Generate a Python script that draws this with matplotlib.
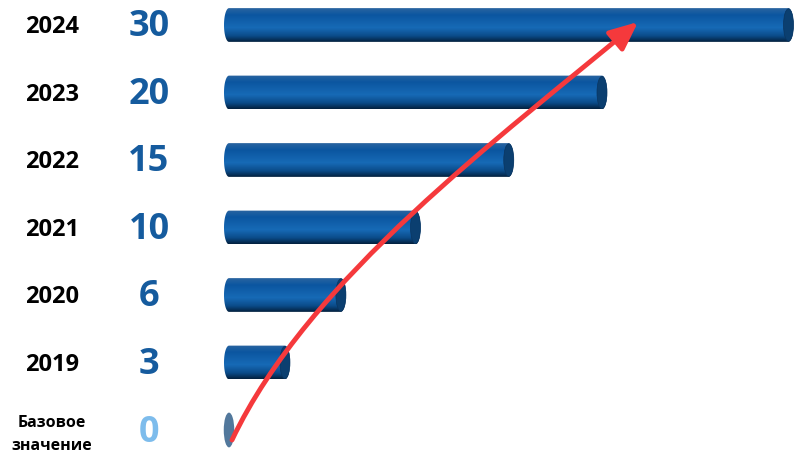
import matplotlib.pyplot as plt
import numpy as np
from matplotlib.colors import LinearSegmentedColormap
from matplotlib.patches import Ellipse, FancyArrowPatch, PathPatch
from matplotlib.path import Path

years = ["Базовое\nзначение", "2019", "2020", "2021", "2022", "2023", "2024"]
values = [0, 3, 6, 10, 15, 20, 30]

plt.rcParams['font.family'] = ['Open Sans', 'DejaVu Sans']

fig = plt.figure(figsize=(7.95, 4.55), dpi=100)
ax = fig.add_axes([0, 0, 1, 1])
ax.set_xlim(-229 / 18.65, (795 - 229) / 18.65)
ax.set_ylim(-25 / 67.5, 430 / 67.5)
ax.axis("off")

H = 0.25        # half bar height
R = 5 / 18.65   # half width of the end ellipse

cyl = LinearSegmentedColormap.from_list("cyl", [
    (0.0, "#2a64a0"), (0.2, "#0b56a0"), (0.58, "#176ab6"),
    (0.82, "#0b4c8a"), (1.0, "#03213f")])

ypos = np.arange(len(values))
bars = ax.barh(ypos, values, height=2 * H, color="none", edgecolor="none")

t = np.linspace(0, np.pi, 40)
for bar, v in zip(bars, values):
    yc = bar.get_y() + H
    x1 = bar.get_width()
    if v == 0:
        ax.add_patch(Ellipse((x1, yc), 2 * R * 1.05, 2 * H * 1.03,
                             facecolor="#52789c", edgecolor="none", zorder=3))
        continue
    # body: left half ellipse + right half ellipse
    left = np.column_stack([-R * np.sin(t), H * np.cos(t)]) + [0, yc]
    right = np.column_stack([x1 + R * np.sin(t), -H * np.cos(t) + yc])
    verts = np.vstack([left, right, left[:1]])
    clip = PathPatch(Path(verts), facecolor="none", edgecolor="none",
                     transform=ax.transData)
    ax.add_patch(clip)
    grad = np.linspace(0, 1, 100).reshape(-1, 1)
    im = ax.imshow(grad, cmap=cyl, aspect="auto", origin="upper",
                   extent=(-R, x1 + R, yc - H, yc + H), zorder=2)
    im.set_clip_path(clip)
    ax.add_patch(Ellipse((x1, yc), 2 * R, 2 * H * 0.96,
                         facecolor="#0b3f70", edgecolor="#0a3560",
                         linewidth=0.5, zorder=3))

ax.set_xlim(-229 / 18.65, (795 - 229) / 18.65)
ax.set_ylim(-25 / 67.5, 430 / 67.5)

# labels
xlab = (52 - 229) / 18.65
xval = (149 - 229) / 18.65
for y, lab, v in zip(ypos, years, values):
    if v == 0:
        ax.text(xlab, y - 0.07, lab, ha="center", va="center", fontsize=11.5,
                fontweight="bold", color="black", linespacing=1.6)
        ax.text(xval, y - 0.05, str(v), ha="center", va="center", fontsize=26,
                fontweight="bold", color="#7dbcec")
    else:
        ax.text(xlab, y - 0.03, lab, ha="center", va="center", fontsize=17,
                fontweight="bold", color="black")
        ax.text(xval, y - 0.03, str(v), ha="center", va="center", fontsize=26,
                fontweight="bold", color="#155b9e")

# red growth arrow
pts = [(232, 440), (309, 278), (501, 137), (638, 22)]
pts = [((px - 229) / 18.65, (430 - py) / 67.5) for px, py in pts]
arrow = FancyArrowPatch(path=Path(pts, [Path.MOVETO, Path.CURVE4, Path.CURVE4, Path.CURVE4]),
                        arrowstyle="-|>,head_length=0.85,head_width=0.38",
                        mutation_scale=20, color="#f5393c", linewidth=3.5,
                        transform=ax.transData, zorder=5)
ax.add_patch(arrow)

fig.savefig("out.png", dpi=100)
